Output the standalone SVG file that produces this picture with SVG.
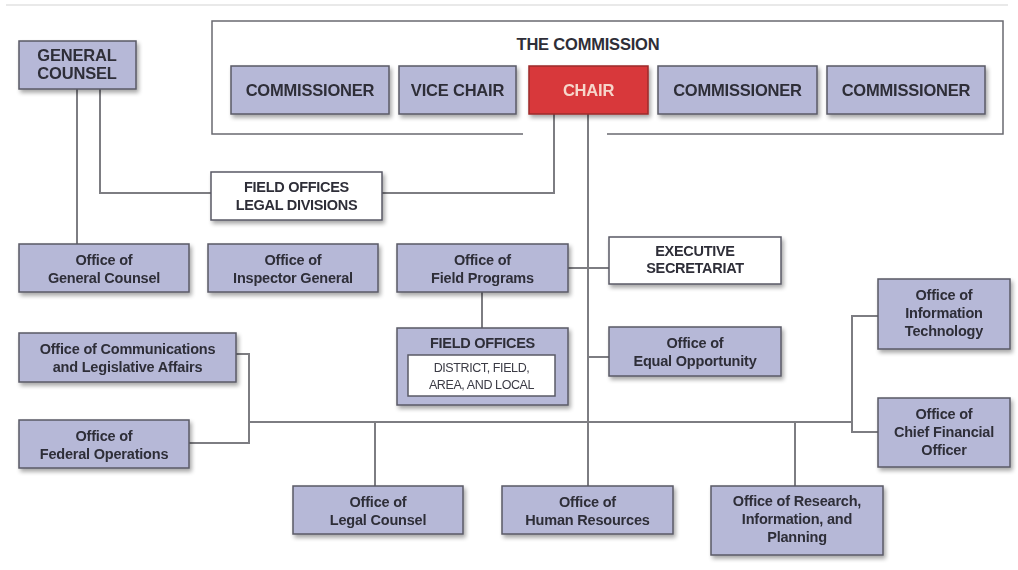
<svg xmlns="http://www.w3.org/2000/svg" width="1018" height="570" viewBox="0 0 1018 570">
<defs>
<filter id="sh" x="-10%" y="-10%" width="125%" height="140%">
<feGaussianBlur in="SourceAlpha" stdDeviation="2"/>
<feOffset dx="2" dy="3" result="b"/>
<feComponentTransfer><feFuncA type="linear" slope="0.35"/></feComponentTransfer>
<feMerge><feMergeNode/><feMergeNode in="SourceGraphic"/></feMerge>
</filter>
</defs>
<style>
.box{fill:#b6b8d7;stroke:#5a5a66;stroke-width:1.5}
.wbox{fill:#ffffff;stroke:#5a5a66;stroke-width:1.5}
.red{fill:#d8393b;stroke:#9c2a2a;stroke-width:1.5}
.t{font-family:"Liberation Sans",Arial,sans-serif;font-weight:bold;font-size:14.5px;fill:#2e2e38;text-anchor:middle;letter-spacing:-0.2px}
.u{font-family:"Liberation Sans",Arial,sans-serif;font-weight:bold;font-size:16.5px;fill:#2e2e38;text-anchor:middle;letter-spacing:-0.2px}
.s{font-family:"Liberation Sans",Arial,sans-serif;font-weight:bold;font-size:14.5px;fill:#2e2e38;text-anchor:middle;letter-spacing:-0.3px}
.sm{font-family:"Liberation Sans",Arial,sans-serif;font-size:12.5px;fill:#3a3a44;text-anchor:middle;letter-spacing:-0.4px}
.ct{fill:#f6d6cb}
.ln{fill:none;stroke:#7d7d82;stroke-width:2}
</style>
<rect x="0" y="0" width="1018" height="570" fill="#ffffff"/>
<line x1="6" y1="5" x2="1008" y2="5" stroke="#e2e2e2" stroke-width="1.5"/>

<g id="connectors">
<path class="ln" d="M77 89 V244"/>
<path class="ln" d="M100 89 V193 H211"/>
<path class="ln" d="M554 114 V193 H382"/>
<path class="ln" d="M588 114 V486"/>
<path class="ln" d="M568 268 H609"/>
<path class="ln" d="M482 292 V328"/>
<path class="ln" d="M588 357 H609"/>
<path class="ln" d="M236 354 H249 V443 H189"/>
<path class="ln" d="M249 422 H852"/>
<path class="ln" d="M375 422 V486"/>
<path class="ln" d="M795 422 V486"/>
<path class="ln" d="M878 316 H852 V432 H878"/>
</g>

<g id="the-commission">
<path d="M523 134 H212 V21 H1003 V134 H607" fill="none" stroke="#6a6a70" stroke-width="1.5"/>
<text class="u" x="588" y="50">THE COMMISSION</text>
</g>

<g id="general-counsel" filter="url(#sh)">
<rect class="box" x="19" y="41" width="117" height="48"/>
<text class="u" x="77" y="61">GENERAL</text>
<text class="u" x="77" y="79">COUNSEL</text>
</g>

<g id="commissioner-1" filter="url(#sh)">
<rect class="box" x="231" y="66" width="158" height="48"/>
<text class="u" x="310" y="96">COMMISSIONER</text>
</g>
<g id="vice-chair" filter="url(#sh)">
<rect class="box" x="399" y="66" width="117" height="48"/>
<text class="u" x="457.5" y="96">VICE CHAIR</text>
</g>
<g id="chair" filter="url(#sh)">
<rect class="red" x="529" y="66" width="119" height="48"/>
<text class="u ct" x="588.5" y="96">CHAIR</text>
</g>
<g id="commissioner-2" filter="url(#sh)">
<rect class="box" x="658" y="66" width="159" height="48"/>
<text class="u" x="737.5" y="96">COMMISSIONER</text>
</g>
<g id="commissioner-3" filter="url(#sh)">
<rect class="box" x="827" y="66" width="158" height="48"/>
<text class="u" x="906" y="96">COMMISSIONER</text>
</g>

<g id="field-offices-legal-divisions" filter="url(#sh)">
<rect class="wbox" x="211" y="172" width="171" height="48"/>
<text class="s" x="296.5" y="192">FIELD OFFICES</text>
<text class="s" x="296.5" y="210">LEGAL DIVISIONS</text>
</g>

<g id="office-general-counsel" filter="url(#sh)">
<rect class="box" x="19" y="244" width="170" height="48"/>
<text class="t" x="104" y="265">Office of</text>
<text class="t" x="104" y="283">General Counsel</text>
</g>
<g id="office-inspector-general" filter="url(#sh)">
<rect class="box" x="208" y="244" width="170" height="48"/>
<text class="t" x="293" y="265">Office of</text>
<text class="t" x="293" y="283">Inspector General</text>
</g>
<g id="office-field-programs" filter="url(#sh)">
<rect class="box" x="397" y="244" width="171" height="48"/>
<text class="t" x="482.5" y="265">Office of</text>
<text class="t" x="482.5" y="283">Field Programs</text>
</g>
<g id="executive-secretariat" filter="url(#sh)">
<rect class="wbox" x="609" y="237" width="172" height="47"/>
<text class="s" x="695" y="256">EXECUTIVE</text>
<text class="s" x="695" y="273">SECRETARIAT</text>
</g>
<g id="office-information-technology" filter="url(#sh)">
<rect class="box" x="878" y="279" width="132" height="70"/>
<text class="t" x="944" y="300">Office of</text>
<text class="t" x="944" y="318">Information</text>
<text class="t" x="944" y="336">Technology</text>
</g>
<g id="office-communications" filter="url(#sh)">
<rect class="box" x="19" y="333" width="217" height="49"/>
<text class="t" x="127.5" y="354">Office of Communications</text>
<text class="t" x="127.5" y="372">and Legislative Affairs</text>
</g>
<g id="field-offices" filter="url(#sh)">
<rect class="box" x="397" y="328" width="171" height="77"/>
<text class="s" x="482.5" y="348">FIELD OFFICES</text>
<rect class="wbox" x="408" y="355" width="147" height="41" stroke-width="1.2"/>
<text class="sm" x="481.5" y="372">DISTRICT, FIELD,</text>
<text class="sm" x="481.5" y="389">AREA, AND LOCAL</text>
</g>
<g id="office-equal-opportunity" filter="url(#sh)">
<rect class="box" x="609" y="327" width="172" height="49"/>
<text class="t" x="695" y="348">Office of</text>
<text class="t" x="695" y="366">Equal Opportunity</text>
</g>
<g id="office-federal-operations" filter="url(#sh)">
<rect class="box" x="19" y="420" width="170" height="48"/>
<text class="t" x="104" y="441">Office of</text>
<text class="t" x="104" y="459">Federal Operations</text>
</g>
<g id="office-chief-financial-officer" filter="url(#sh)">
<rect class="box" x="878" y="398" width="132" height="69"/>
<text class="t" x="944" y="419">Office of</text>
<text class="t" x="944" y="437">Chief Financial</text>
<text class="t" x="944" y="455">Officer</text>
</g>
<g id="office-legal-counsel" filter="url(#sh)">
<rect class="box" x="293" y="486" width="170" height="48"/>
<text class="t" x="378" y="507">Office of</text>
<text class="t" x="378" y="525">Legal Counsel</text>
</g>
<g id="office-human-resources" filter="url(#sh)">
<rect class="box" x="502" y="486" width="171" height="48"/>
<text class="t" x="587.5" y="507">Office of</text>
<text class="t" x="587.5" y="525">Human Resources</text>
</g>
<g id="office-research" filter="url(#sh)">
<rect class="box" x="711" y="486" width="172" height="69"/>
<text class="t" x="797" y="506">Office of Research,</text>
<text class="t" x="797" y="524">Information, and</text>
<text class="t" x="797" y="542">Planning</text>
</g>
</svg>
